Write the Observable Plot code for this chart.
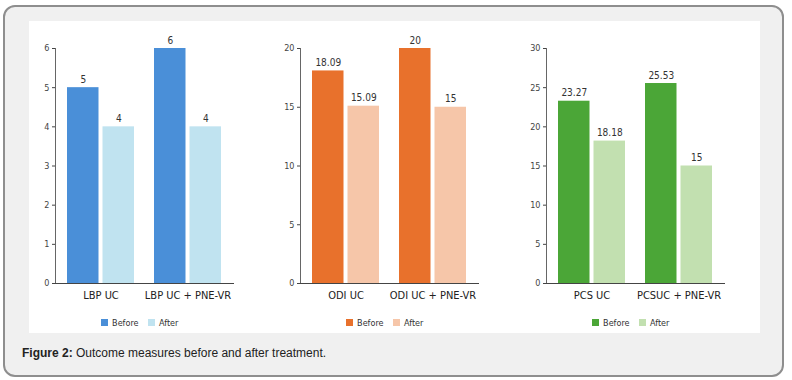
<!DOCTYPE html>
<html>
<head>
<meta charset="utf-8">
<script src="https://cdn.jsdelivr.net/npm/d3@7"></script>
<script src="https://cdn.jsdelivr.net/npm/@observablehq/plot@0.6"></script>
<style>
  html, body { margin: 0; padding: 0; background: #ffffff; width: 792px; height: 380px; overflow: hidden; }
  #box { position: absolute; left: 3px; top: 5px; width: 781px; height: 372px; box-sizing: border-box;
         border: 2px solid #8e8e8e; border-radius: 12px; background: #f0f0f0; }
  #white { position: absolute; left: 29px; top: 21px; width: 731px; height: 312px; background: #ffffff; }
  .panel { position: absolute; top: 21px; width: 200px; }
  .panel svg { display: block; }
  .legend { position: absolute; top: 306px; width: 178px; display: flex; justify-content: center; }
  #caption { position: absolute; left: 22px; top: 346px; font-family: "Liberation Sans", Arial, sans-serif;
             font-size: 12px; color: #222; }
</style>
</head>
<body>
<div id="box"></div>
<div id="white"></div>
<div id="p1" class="panel" style="left:33px"></div>
<div id="p2" class="panel" style="left:278px"></div>
<div id="p3" class="panel" style="left:524px"></div>
<div id="l1" class="legend" style="left:55px"></div>
<div id="l2" class="legend" style="left:300px"></div>
<div id="l3" class="legend" style="left:546px"></div>
<div id="caption"><b>Figure 2:</b> Outcome measures before and after treatment.</div>
<script>
// ---- data ----
const seriesNames = ["Before", "After"];

const lbpGroups = ["LBP UC", "LBP UC + PNE-VR"];
const lbpBefore = [5, 6];
const lbpAfter = [4, 4];
const lbpTicks = [0, 1, 2, 3, 4, 5, 6];

const odiGroups = ["ODI UC", "ODI UC + PNE-VR"];
const odiBefore = [18.09, 20];
const odiAfter = [15.09, 15];
const odiTicks = [0, 5, 10, 15, 20];

const pcsGroups = ["PCS UC", "PCSUC + PNE-VR"];
const pcsBefore = [23.27, 25.53];
const pcsAfter = [18.18, 15];
const pcsTicks = [0, 5, 10, 15, 20, 25, 30];

const FONT = "'Liberation Sans Narrow', 'DejaVu Sans Condensed', 'Roboto Condensed', sans-serif";

function panel(el, legendEl, groups, before, after, ticks, colors) {
  const rows = groups.map((g, i) => ({group: g, before: before[i], after: after[i]}));
  const ymax = ticks[ticks.length - 1];
  const chart = Plot.plot({
    width: 200,
    height: 287,
    marginLeft: 22,
    marginRight: 0,
    marginTop: 27,
    marginBottom: 25,
    style: {fontFamily: FONT, background: "transparent", overflow: "visible"},
    x: {domain: groups, paddingInner: 0.234, paddingOuter: 0.134, axis: null},
    y: {domain: [0, ymax], axis: null},
    marks: [
      Plot.barY(rows, {x: "group", y: "before", fill: colors[0], insetRight: 35.5}),
      Plot.barY(rows, {x: "group", y: "after", fill: colors[1], insetLeft: 35.5}),
      Plot.text(rows, {x: "group", y: "before", text: d => String(d.before), dx: -17.75, dy: -5,
        lineAnchor: "bottom", fontSize: 10, fill: "#333"}),
      Plot.text(rows, {x: "group", y: "after", text: d => String(d.after), dx: 17.75, dy: -5,
        lineAnchor: "bottom", fontSize: 10, fill: "#333"}),
      Plot.frame({anchor: "left", stroke: "#666"}),
      Plot.frame({anchor: "bottom", stroke: "#444"}),
      Plot.axisY({ticks: ticks, tickSize: 3, tickPadding: 3, fontSize: 9, color: "#444", label: null, tickFormat: d => String(d)}),
      Plot.axisX({tickSize: 0, tickPadding: 8, fontSize: 11, color: "#222", label: null})
    ]
  });
  el.appendChild(chart);
  const lg = Plot.legend({
    color: {type: "ordinal", domain: seriesNames, range: colors},
    swatchSize: 7,
    style: {fontFamily: FONT, fontSize: "9px", color: "#333", background: "transparent"}
  });
  legendEl.appendChild(lg);
}

panel(document.getElementById("p1"), document.getElementById("l1"), lbpGroups, lbpBefore, lbpAfter, lbpTicks, ["#4a8fd8", "#c0e3f0"]);
panel(document.getElementById("p2"), document.getElementById("l2"), odiGroups, odiBefore, odiAfter, odiTicks, ["#e8712c", "#f6c6a9"]);
panel(document.getElementById("p3"), document.getElementById("l3"), pcsGroups, pcsBefore, pcsAfter, pcsTicks, ["#4ba637", "#c2e0b0"]);
</script>
</body>
</html>
